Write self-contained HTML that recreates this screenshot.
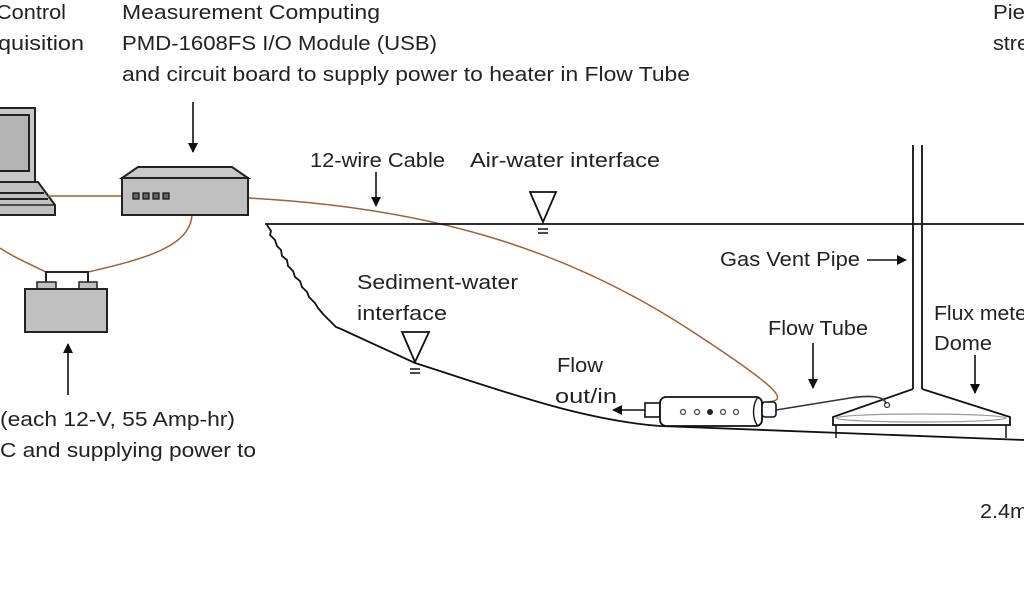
<!DOCTYPE html>
<html><head><meta charset="utf-8"><style>
html,body{margin:0;padding:0;background:#fff;}
svg{display:block;}
text{font-family:"Liberation Sans",sans-serif;font-size:20px;fill:#222;}
</style></head><body>
<svg width="1024" height="600" viewBox="0 0 1024 600" xmlns="http://www.w3.org/2000/svg">
<defs>
<marker id="ah" markerWidth="10" markerHeight="10" refX="9" refY="5" orient="auto" markerUnits="userSpaceOnUse">
<path d="M0,0 L10,5 L0,10 z" fill="#111"/>
</marker>
</defs>
<!-- texts -->
<text x="-4" y="19" textLength="70" lengthAdjust="spacingAndGlyphs">Control</text>
<text x="-2" y="50" textLength="86" lengthAdjust="spacingAndGlyphs">quisition</text>
<text x="122" y="19" textLength="258" lengthAdjust="spacingAndGlyphs">Measurement Computing</text>
<text x="122" y="50" textLength="315" lengthAdjust="spacingAndGlyphs">PMD-1608FS I/O Module (USB)</text>
<text x="122" y="81" textLength="568" lengthAdjust="spacingAndGlyphs">and circuit board to supply power to heater in Flow Tube</text>
<text x="993" y="19" textLength="32" lengthAdjust="spacingAndGlyphs">Pie</text>
<text x="993" y="50" textLength="36" lengthAdjust="spacingAndGlyphs">stre</text>
<text x="310" y="167" textLength="135" lengthAdjust="spacingAndGlyphs">12-wire Cable</text>
<text x="470" y="167" textLength="190" lengthAdjust="spacingAndGlyphs">Air-water interface</text>
<text x="720" y="266" textLength="140" lengthAdjust="spacingAndGlyphs">Gas Vent Pipe</text>
<text x="357" y="289" textLength="161" lengthAdjust="spacingAndGlyphs">Sediment-water</text>
<text x="357" y="320" textLength="90" lengthAdjust="spacingAndGlyphs">interface</text>
<text x="934" y="320" textLength="100" lengthAdjust="spacingAndGlyphs">Flux meter</text>
<text x="934" y="350" textLength="58" lengthAdjust="spacingAndGlyphs">Dome</text>
<text x="768" y="335" textLength="100" lengthAdjust="spacingAndGlyphs">Flow Tube</text>
<text x="557" y="372" textLength="46" lengthAdjust="spacingAndGlyphs">Flow</text>
<text x="555" y="403" textLength="62" lengthAdjust="spacingAndGlyphs">out/in</text>
<text x="0" y="426" textLength="235" lengthAdjust="spacingAndGlyphs">(each 12-V, 55 Amp-hr)</text>
<text x="0" y="457" textLength="256" lengthAdjust="spacingAndGlyphs">C and supplying power to</text>
<text x="980" y="518" textLength="48" lengthAdjust="spacingAndGlyphs">2.4m</text>

<!-- arrows -->
<g stroke="#111" stroke-width="1.6" fill="none">
<line x1="193" y1="102" x2="193" y2="152" marker-end="url(#ah)"/>
<line x1="68" y1="395" x2="68" y2="344" marker-end="url(#ah)"/>
<line x1="376" y1="172" x2="376" y2="206" marker-end="url(#ah)"/>
<line x1="867" y1="260" x2="906" y2="260" marker-end="url(#ah)"/>
<line x1="813" y1="343" x2="813" y2="388" marker-end="url(#ah)"/>
<line x1="975" y1="355" x2="975" y2="393" marker-end="url(#ah)"/>
<line x1="645" y1="410" x2="613" y2="410" marker-end="url(#ah)"/>
</g>

<!-- laptop -->
<rect x="-10" y="108" width="45" height="74" fill="#c8c8c8" stroke="#222" stroke-width="2"/>
<rect x="-10" y="115" width="39" height="56" fill="#b4b4b4" stroke="#222" stroke-width="2"/>
<path d="M-10,182 L38,182 L55,205 L55,215 L-10,215 z" fill="#c0c0c0" stroke="#222" stroke-width="2"/>
<line x1="-10" y1="193" x2="44" y2="193" stroke="#222" stroke-width="2"/>
<line x1="-10" y1="199" x2="48" y2="199" stroke="#222" stroke-width="2"/>
<line x1="-10" y1="205" x2="55" y2="205" stroke="#222" stroke-width="1.5"/>

<!-- brown cables -->
<g stroke="#a0603a" stroke-width="1.5" fill="none">
<line x1="48" y1="196" x2="122" y2="196"/>
<path d="M46,272 C25,262 10,255 0,248"/>
<path d="M88,272 C150,258 190,245 192,215"/>
<path d="M248,198 C420,207 560,245 690,330 C790,395 785,400 768,402"/>
</g>

<!-- module -->
<path d="M122,178 L138,167 L232,167 L248,178 z" fill="#c8c8c8" stroke="#222" stroke-width="2"/>
<rect x="122" y="178" width="126" height="37" fill="#c0c0c0" stroke="#222" stroke-width="2"/>
<g fill="#666" stroke="#111" stroke-width="1.2">
<rect x="133" y="193" width="6" height="6"/><rect x="143" y="193" width="6" height="6"/>
<rect x="153" y="193" width="6" height="6"/><rect x="163" y="193" width="6" height="6"/>
</g>

<!-- battery -->
<path d="M46,282 L46,272 L88,272 L88,282" fill="none" stroke="#222" stroke-width="2"/>
<rect x="37" y="282" width="19" height="7" fill="#c0c0c0" stroke="#222" stroke-width="1.5"/>
<rect x="79" y="282" width="18" height="7" fill="#c0c0c0" stroke="#222" stroke-width="1.5"/>
<rect x="25" y="289" width="82" height="43" fill="#c0c0c0" stroke="#222" stroke-width="2"/>

<!-- water line & ground -->
<line x1="265" y1="224" x2="1024" y2="224" stroke="#111" stroke-width="1.8"/>
<path d="M267,225 l4,6 l-1,4 l5,5 l2,6 l4,4 l1,6 l5,4 l1,6 l5,5 l2,6 l5,4 l2,6 l5,5 l2,5 l6,6 l3,5 l5,6 l4,4 l5,5 l4,4 l5,2 L415,363 C500,390 580,420 660,426 L1024,440" fill="none" stroke="#111" stroke-width="1.8"/>

<!-- triangles -->
<path d="M530,192 L556,192 L543,222 z" fill="#fff" stroke="#111" stroke-width="1.8"/>
<line x1="538" y1="229" x2="548" y2="229" stroke="#111" stroke-width="1.5"/>
<line x1="538" y1="233" x2="548" y2="233" stroke="#111" stroke-width="1.5"/>
<path d="M402,332 L429,332 L415,362 z" fill="#fff" stroke="#111" stroke-width="1.8"/>
<line x1="410" y1="369" x2="420" y2="369" stroke="#111" stroke-width="1.5"/>
<line x1="410" y1="373" x2="420" y2="373" stroke="#111" stroke-width="1.5"/>

<!-- vent pipe -->
<line x1="913" y1="145" x2="913" y2="389" stroke="#111" stroke-width="1.8"/>
<line x1="922" y1="145" x2="922" y2="389" stroke="#111" stroke-width="1.8"/>

<!-- dome -->
<path d="M913,389 L833,417 L833,425 L1010,425 L1010,417 L922,389" fill="#fff" stroke="#111" stroke-width="1.8"/>
<ellipse cx="921" cy="418" rx="85" ry="4" fill="none" stroke="#999" stroke-width="1.2"/>
<path d="M836,425 L836,438 M1006,425 L1006,438" stroke="#111" stroke-width="1.5"/>
<circle cx="887" cy="405" r="2.5" fill="none" stroke="#333" stroke-width="1.2"/>

<!-- wire tube to dome -->
<path d="M776,410 L850,398 C870,395 885,396 886,404" fill="none" stroke="#333" stroke-width="1.6"/>

<!-- flow tube -->
<rect x="645" y="403" width="15" height="14" fill="#fff" stroke="#111" stroke-width="1.6"/>
<rect x="660" y="397" width="102" height="29" rx="6" fill="#fff" stroke="#111" stroke-width="1.8"/>
<path d="M758,397 C752,405 752,419 758,426" fill="none" stroke="#111" stroke-width="1.4"/>
<rect x="762" y="402" width="14" height="15" rx="3" fill="#fff" stroke="#111" stroke-width="1.6"/>
<g fill="none" stroke="#444" stroke-width="1.2">
<circle cx="683" cy="412" r="2.5"/><circle cx="697" cy="412" r="2.5"/>
<circle cx="723" cy="412" r="2.5"/><circle cx="736" cy="412" r="2.5"/>
</g>
<circle cx="710" cy="412" r="3" fill="#222"/>
</svg>
</body></html>
